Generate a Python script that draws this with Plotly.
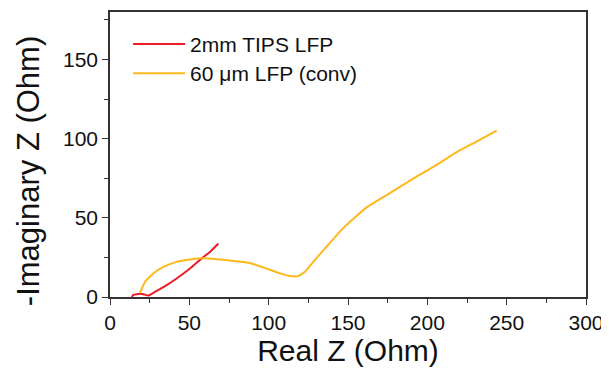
import plotly.graph_objects as go

# 2mm TIPS LFP
tips_x = [13.7, 14.7, 16.8, 19.0, 21.0, 24.1, 27.3, 31.5, 35.7, 42.0, 50.4, 57.8, 63.0, 68.3]
tips_y = [0.0, 1.3, 1.8, 2.0, 1.8, 0.9, 2.6, 5.0, 7.5, 11.7, 18.0, 24.4, 28.5, 33.8]

# 60 um LFP (conv)
conv_x = [18.9, 22.0, 27.3, 33.6, 42.0, 50.4, 57.8, 67.2, 77.7, 88.2, 96.6, 107.1, 113.4,
          118.6, 122.9, 128.1, 135.5, 147.0, 161.7, 174.3, 193.2, 205.8, 218.5, 231.0, 243.7]
conv_y = [2.6, 9.5, 14.9, 19.0, 22.2, 23.7, 24.4, 23.9, 22.8, 21.5, 18.7, 14.9, 13.2,
          13.2, 15.9, 22.2, 30.7, 43.5, 56.6, 64.4, 76.0, 83.4, 91.5, 98.2, 105.1]

names = ["2mm TIPS LFP", "60 \u03bcm LFP (conv)"]
colors = ["#ee1c24", "#ffb81c"]
x_title = "Real Z (Ohm)"
y_title = "-Imaginary Z (Ohm)"

FONT = "Liberation Sans, Arial, sans-serif"

fig = go.Figure()
fig.add_trace(go.Scatter(x=tips_x, y=tips_y, mode="lines", name=names[0], legend="legend",
                         line=dict(color=colors[0], width=2, shape="spline", smoothing=0.4)))
fig.add_trace(go.Scatter(x=conv_x, y=conv_y, mode="lines", name=names[1], legend="legend2",
                         line=dict(color=colors[1], width=2, shape="spline", smoothing=0.4)))

axis_common = dict(
    showgrid=False, zeroline=False, showline=True, linecolor="#333333", linewidth=1.5,
    mirror=True, ticks="outside", ticklen=6, tickwidth=1.2, tickcolor="#333333",
    tickfont=dict(family=FONT, size=21, color="#111111"),
    dtick=50, automargin=False,
    minor=dict(ticks="outside", ticklen=4, tickwidth=1, tickcolor="#333333", dtick=25),
)

leg_common = dict(xanchor="left", yanchor="top", bgcolor="rgba(0,0,0,0)",
                  font=dict(size=21), itemwidth=52)

# page body has an 8px margin, so the figure is shrunk by 8px and margins adjusted
fig.update_layout(
    width=601, height=360,
    margin=dict(l=102, r=23, t=4, b=71),
    paper_bgcolor="white", plot_bgcolor="white",
    font=dict(family=FONT, color="#111111"),
    xaxis=dict(range=[0, 300], title=dict(text=x_title, font=dict(size=30), standoff=1),
               **axis_common),
    yaxis=dict(range=[0, 180], **axis_common),
    legend=dict(x=0.038, y=0.958, **leg_common),
    legend2=dict(x=0.038, y=0.856, **leg_common),
    showlegend=True,
    annotations=[dict(text=y_title, textangle=-90, xref="paper", yref="paper",
                      x=-0.172, y=0.442, xanchor="center", yanchor="middle",
                      showarrow=False, font=dict(size=31, family=FONT, color="#111111"))],
)

fig.write_html("out.html")
